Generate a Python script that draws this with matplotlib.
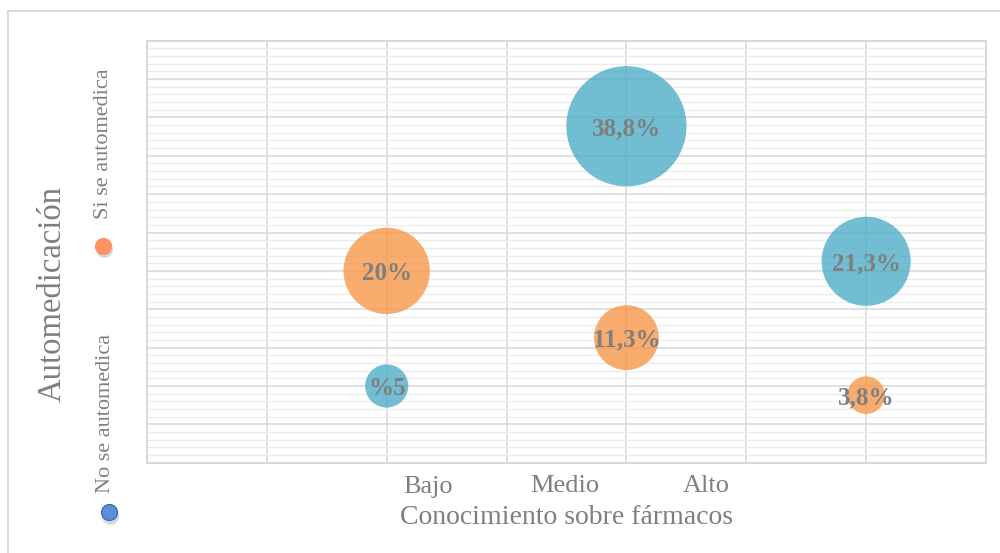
import matplotlib
matplotlib.use("Agg")
import matplotlib.pyplot as plt
from matplotlib.lines import Line2D
from matplotlib.ticker import MultipleLocator

# ---------------- data ----------------
categories = ["Bajo", "Medio", "Alto"]
cat_x = [2, 4, 6]
series_names = ["Si se automedica", "No se automedica"]

# "No se automedica" (blue)
no_vals = [5.0, 38.8, 21.3]
no_y = [2.0, 8.77, 5.25]
no_labels = ["%5", "38,8%", "21,3%"]

# "Si se automedica" (orange)
si_vals = [20.0, 11.3, 3.8]
si_y = [5.0, 3.26, 1.76]
si_labels = ["20%", "11,3%", "3,8%"]

x_title = "Conocimiento sobre fármacos"
y_title = "Automedicación"

# ---------------- style ----------------
W, H = 1000, 553
FONT = "Liberation Serif"
TXT = "#7f7f7f"
BLUE = "#4BACC6"
ORANGE = "#F79646"
GRID_MAJ = "#d9d9d9"
GRID_MIN = "#ececec"
px = 0.72  # points per pixel at 100 dpi

fig = plt.figure(figsize=(W / 100, H / 100), dpi=100)

def fx(x):
    return x / W

def fy(y):
    return 1 - y / H

left, right, top, bottom = 147, 986, 40.7, 462.7
ax = fig.add_axes([fx(left), fy(bottom), fx(right - left), (bottom - top) / H])
ax.set_xlim(0, 7)
ax.set_ylim(0, 11)
ax.xaxis.set_major_locator(MultipleLocator(1))
ax.yaxis.set_major_locator(MultipleLocator(1))
ax.yaxis.set_minor_locator(MultipleLocator(0.2))
ax.grid(True, which="major", color=GRID_MAJ, lw=1.6 * px, zorder=0)
ax.grid(True, which="minor", axis="y", color=GRID_MIN, lw=1.3 * px, zorder=0)
ax.set_axisbelow(True)
ax.tick_params(which="both", length=0, labelbottom=False, labelleft=False)
for sp in ax.spines.values():
    sp.set_color(GRID_MAJ)
    sp.set_linewidth(2 * px)

k = 193.0  # bubble area scale (pt^2 per percent)
ax.scatter(cat_x, no_y, s=[k * v for v in no_vals], color=BLUE, alpha=0.78,
           linewidths=0, zorder=3)
ax.scatter(cat_x, si_y, s=[k * v for v in si_vals], color=ORANGE, alpha=0.78,
           linewidths=0, zorder=3)

for xv, yv, lab in zip(cat_x, no_y, no_labels):
    ax.text(xv, yv, lab, ha="center", va="center_baseline", fontsize=18, fontweight="bold",
            family=FONT, color=TXT, zorder=5)
for xv, yv, lab in zip(cat_x, si_y, si_labels):
    ax.text(xv, yv, lab, ha="center", va="center_baseline", fontsize=18, fontweight="bold",
            family=FONT, color=TXT, zorder=5)

# category labels (placed as text boxes)
cat_label_px = [428, 564.5, 706]
for lab, xp in zip(categories, cat_label_px):
    fig.text(fx(xp), fy(484), lab, ha="center", va="center_baseline", fontsize=19,
             family=FONT, color=TXT)

fig.text(fx(566), fy(515), x_title, ha="center", va="center_baseline", fontsize=20,
         family=FONT, color=TXT)
fig.text(fx(52), fy(294), y_title, ha="center", va="center", fontsize=23.5,
         family=FONT, color=TXT, rotation=90)

# legend (vertical, manual)
fig.text(fx(103), fy(144), series_names[0], ha="center", va="center", fontsize=16,
         family=FONT, color=TXT, rotation=90)
fig.text(fx(105), fy(413), series_names[1], ha="center", va="center", fontsize=16,
         family=FONT, color=TXT, rotation=90)

def legend_dot(xc, yc, face, edge):
    fig.add_artist(Line2D([fx(xc + 1)], [fy(yc + 3.5)], marker="o", markersize=17 * px,
                          color="#000000", alpha=0.15, markeredgewidth=0,
                          transform=fig.transFigure))
    fig.add_artist(Line2D([fx(xc)], [fy(yc)], marker="o", markersize=16 * px,
                          markerfacecolor=face, markeredgecolor=edge,
                          markeredgewidth=1.2 * px, transform=fig.transFigure))

legend_dot(102.7, 245.7, "#ff9260", "#ff9260")
legend_dot(109, 512.3, "#5b8fd8", "#3a6ab0")

# outer chart border
fig.add_artist(Line2D([fx(8), 1.0], [fy(11), fy(11)], color=GRID_MAJ, lw=2 * px,
                      transform=fig.transFigure))
fig.add_artist(Line2D([fx(8), fx(8)], [fy(11), 0.0], color=GRID_MAJ, lw=2 * px,
                      transform=fig.transFigure))

fig.savefig("out.png", dpi=100)
